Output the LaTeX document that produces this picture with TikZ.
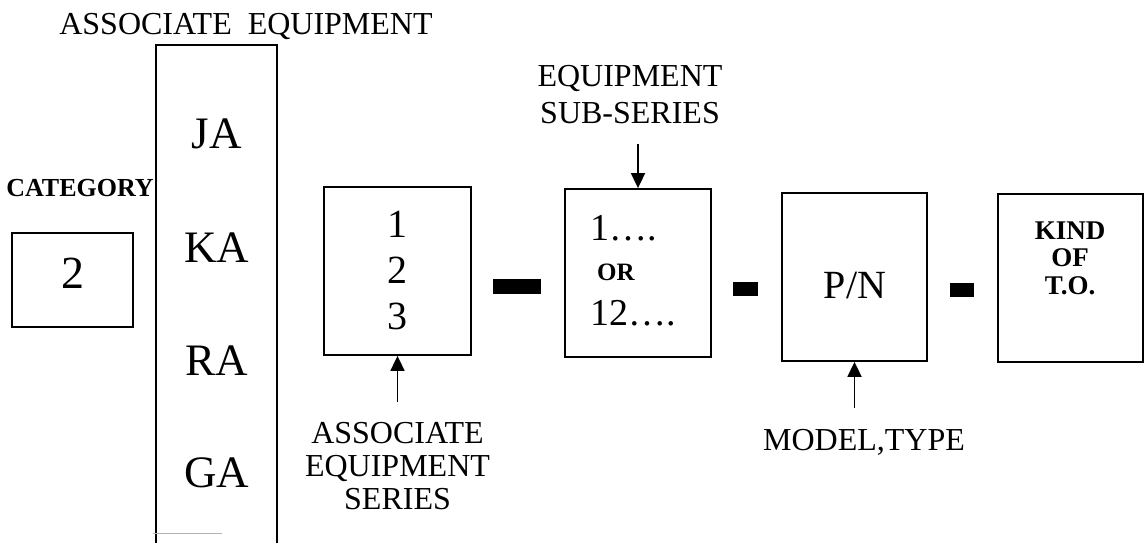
\documentclass[tikz,border=0pt]{standalone}
\usepackage{fontspec}
\setmainfont{Liberation Serif}
\usetikzlibrary{arrows.meta}
\tikzset{
  box/.style={draw, line width=1.8pt, inner sep=0pt},
  dashbar/.style={fill=black, draw=none, inner sep=0pt},
  lbl/.style={inner sep=0pt, anchor=base, font=\fontsize{32}{32}\selectfont},
  huge/.style={inner sep=0pt, anchor=base, font=\fontsize{45}{45}\selectfont},
  big/.style={inner sep=0pt, anchor=base, font=\fontsize{40}{40}\selectfont},
  mid/.style={inner sep=0pt, anchor=base west, font=\fontsize{38}{38}\selectfont},
  smallb/.style={inner sep=0pt, anchor=base, font=\fontsize{26}{26}\selectfont\bfseries},
  arr/.style={line width=1.8pt, -{Triangle[width=14pt,length=15pt]}}
}
\begin{document}
\begin{tikzpicture}[x=1pt,y=-1pt]
\useasboundingbox (0,0) rectangle (1146,543);

% top label
\node[lbl] (tlab) at (246,35) {ASSOCIATE\ \ EQUIPMENT};

% tall box (open at bottom)
\draw[line width=1.8pt] (156,543) -- (156,45) -- (277,45) -- (277,543);
\draw[gray!60, line width=1pt] (153,533) -- (222,533);
\node[huge] (ja) at (217,148) {JA};
\node[huge] (ka) at (217,262) {KA};
\node[huge] (ra) at (217,375) {RA};
\node[huge] (ga) at (217,487) {GA};

% category
\node[smallb] (cat) at (80,196) {CATEGORY};
\node[box, minimum width=121pt, minimum height=94pt] (b2) at (72.5,280) {};
\node[inner sep=0pt, anchor=base, font=\fontsize{46}{46}\selectfont] (two) at (72.5,288) {2};

% series box
\node[box, minimum width=147pt, minimum height=168pt] (b123) at (397.5,271) {};
\node[big] (s1) at (397.5,237) {1};
\node[big] (s2) at (397.5,283) {2};
\node[big] (s3) at (397.5,329) {3};
\coordinate (a1s) at (397.5,402);
\draw[arr] (a1s) -- (b123.south);
\node[lbl] (aes1) at (397.5,443) {ASSOCIATE};
\node[lbl] (aes2) at (397.5,476) {EQUIPMENT};
\node[lbl] (aes3) at (397.5,509) {SERIES};

% dash 1
\node[dashbar, minimum width=48pt, minimum height=15pt] (d1) at (517,286.5) {};

% sub-series box
\node[box, minimum width=146pt, minimum height=168pt] (bsub) at (638,273) {};
\node[mid] (ss1) at (590,240) {1….};
\node[inner sep=0pt, anchor=base west, font=\fontsize{25}{25}\selectfont\bfseries] (ssor) at (597,280) {OR};
\node[mid] (ss2) at (590,325) {12….};
\node[lbl] (ssl1) at (630,87) {EQUIPMENT};
\node[lbl] (ssl2) at (630,123) {SUB-SERIES};
\coordinate (a2s) at (638,144);
\draw[arr] (a2s) -- (bsub.north);

% dash 2
\node[dashbar, minimum width=25pt, minimum height=14pt] (d2) at (745.5,289) {};

% P/N box
\node[box, minimum width=145pt, minimum height=168pt] (bpn) at (854.5,277) {};
\node[big] (pn) at (855,298) {P/N};
\coordinate (a3s) at (854.5,408);
\draw[arr] (a3s) -- (bpn.south);
\node[lbl] (mt) at (864,450) {MODEL,TYPE};

% dash 3
\node[dashbar, minimum width=24pt, minimum height=14pt] (d3) at (962,290) {};

% kind box
\node[box, minimum width=145pt, minimum height=168pt] (bkind) at (1070.5,278) {};
\node[inner sep=0pt, anchor=base, font=\fontsize{27}{27}\selectfont\bfseries] (k1) at (1070,239) {KIND};
\node[inner sep=0pt, anchor=base, font=\fontsize{27}{27}\selectfont\bfseries] (k2) at (1070,266) {OF};
\node[inner sep=0pt, anchor=base, font=\fontsize{27}{27}\selectfont\bfseries] (k3) at (1070,294) {T.O.};
\end{tikzpicture}
\end{document}
